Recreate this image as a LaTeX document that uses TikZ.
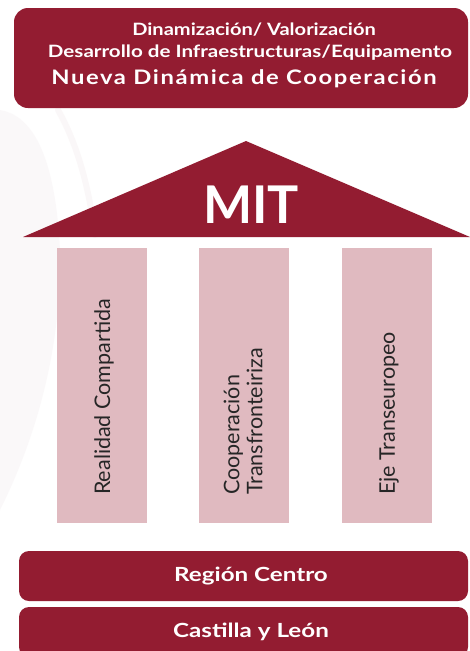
\documentclass[tikz,border=0pt]{standalone}
\usepackage{fontspec}
\setmainfont{Lato}
\definecolor{wine}{RGB}{147,28,49}
\definecolor{pillarc}{RGB}{224,186,192}
\definecolor{haze}{RGB}{246,241,243}
\tikzset{
  banner/.style={fill=wine, inner sep=0pt, text=white},
  bannertext/.style={text=white, anchor=base, inner sep=0pt},
  pillarbox/.style={fill=pillarc, minimum width=90pt, minimum height=275pt, inner sep=0pt},
  pillartext/.style={rotate=90, anchor=west, align=left, inner sep=0pt, font=\fontsize{21.5}{23}\selectfont, text=black!85},
  barbox/.style={banner, rounded corners=10pt, minimum width=449pt, minimum height=50pt},
  bartext/.style={bannertext, font=\fontsize{19.5}{20}\selectfont\bfseries\addfontfeatures{FakeStretch=1.24}},
}
\begin{document}
\begin{tikzpicture}[x=1pt,y=-1pt]
\useasboundingbox (0,0) rectangle (470,651);
\fill[white] (0,0) rectangle (470,651);
% faint background swirl
\fill[haze, opacity=0.45] (0,110) .. controls (30,115) and (55,150) .. (60,250) .. controls (62,350) and (35,440) .. (0,510) -- cycle;
\draw[haze!85!pillarc, line width=6pt, opacity=0.35, line cap=round] (58,110) .. controls (75,140) and (88,180) .. (95,235);
\node[banner, rounded corners=14pt, minimum width=454pt, minimum height=100pt] (top) at (241,58) {};
\node[bannertext, font=\fontsize{17}{20}\selectfont\bfseries\addfontfeatures{FakeStretch=1.18}] (l1) at (254,35) {Dinamización/ Valorización};
\node[bannertext, font=\fontsize{17}{20}\selectfont\bfseries\addfontfeatures{FakeStretch=1.21}] (l2) at (250,57.7) {Desarrollo de Infraestructuras/Equipamento};
\node[bannertext, font=\fontsize{20}{22}\selectfont\bfseries\addfontfeatures{FakeStretch=1.19,LetterSpace=8}] (l3) at (244,84) {Nueva Dinámica de Cooperación};
\coordinate (roofL) at (23,237);
\coordinate (roofT) at (246,141);
\coordinate (roofR) at (470,237);
\fill[wine] (roofL) -- (roofT) -- (roofR) -- cycle;
\node[text=white, font=\fontsize{52}{52}\selectfont\bfseries, inner sep=0pt] (mit) at (251,205) {MIT};
\node[pillarbox] (p1) at (102,385.5) {};
\node[pillarbox] (p2) at (244,385.5) {};
\node[pillarbox] (p3) at (387,385.5) {};
\node[pillartext] (t1) at (104,495) {Realidad Compartida};
\node[pillartext] (t2) at (243,495) {Cooperación\\Transfronteiriza};
\node[pillartext] (t3) at (389,495) {Eje Transeuropeo};
\node[barbox] (b1) at (243.5,576) {};
\node[bartext] (bt1) at (251,581) {Región Centro};
\node[barbox] (b2) at (243.5,632) {};
\node[bartext] (bt2) at (251,637) {Castilla y León};
\end{tikzpicture}
\end{document}
